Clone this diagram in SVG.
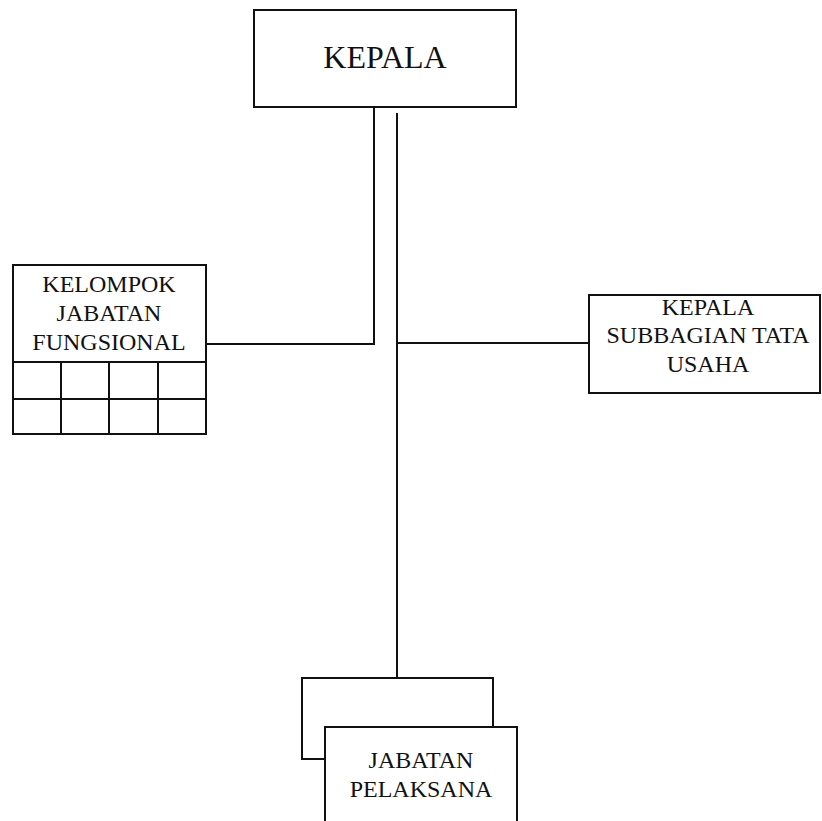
<svg xmlns="http://www.w3.org/2000/svg" width="822" height="821" viewBox="0 0 822 821">
<style>
.box{fill:#fff;stroke:#111;stroke-width:2}
.ln{fill:none;stroke:#111;stroke-width:2}
.t{font-family:"Liberation Serif",serif;font-size:24px;fill:#111;text-anchor:middle}
.big{font-size:32px}
</style>
<rect width="822" height="821" fill="#fff"/>
<g id="connectors">
<path class="ln" d="M374 107 V344 H206"/>
<path class="ln" d="M397 113 V678"/>
<path class="ln" d="M397 343 H589"/>
</g>
<g id="kepala">
<rect class="box" x="254" y="10" width="262" height="97"/>
<text class="t big" x="385" y="68">KEPALA</text>
</g>
<g id="kelompok">
<rect class="box" x="13" y="265" width="193" height="169"/>
<path class="ln" d="M13 362 H206 M13 399 H206 M61 362 V434 M109 362 V434 M158 362 V434"/>
<text class="t" x="109" y="292">KELOMPOK</text>
<text class="t" x="109" y="321">JABATAN</text>
<text class="t" x="109" y="350">FUNGSIONAL</text>
</g>
<g id="kasubbag">
<rect class="box" x="589" y="295" width="231" height="98"/>
<text class="t" x="708" y="315">KEPALA</text>
<text class="t" x="708" y="343">SUBBAGIAN TATA</text>
<text class="t" x="708" y="372">USAHA</text>
</g>
<g id="pelaksana">
<rect class="box" x="302" y="678" width="191" height="81"/>
<rect class="box" x="325" y="727" width="192" height="100"/>
<text class="t" x="421" y="768">JABATAN</text>
<text class="t" x="421" y="797">PELAKSANA</text>
</g>
</svg>
